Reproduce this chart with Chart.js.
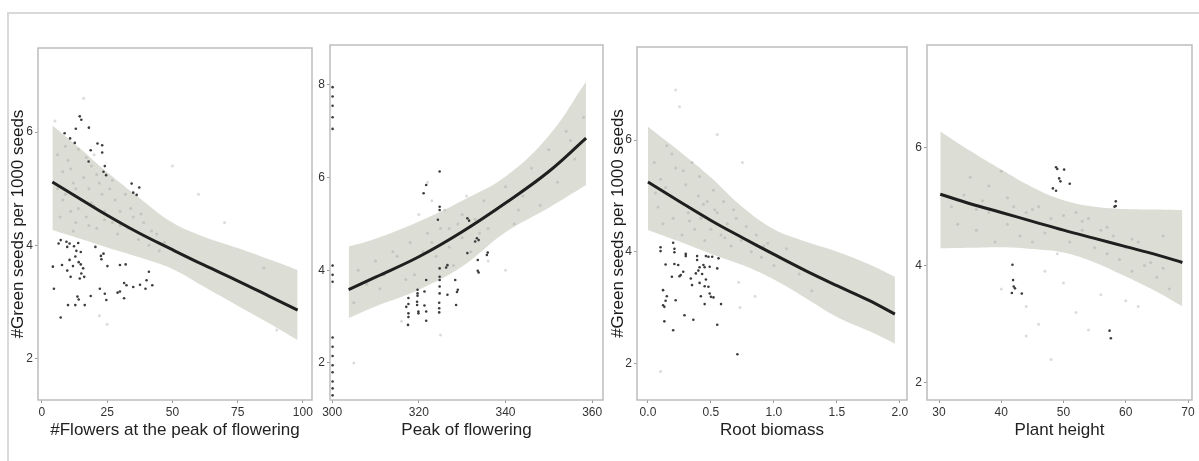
<!DOCTYPE html>
<html>
<head>
<meta charset="utf-8">
<script src="https://cdn.jsdelivr.net/npm/chart.js@4.4.0/dist/chart.umd.min.js"></script>
<style>
  body { margin: 0; background: #fff; width: 1199px; height: 461px; overflow: hidden; position: relative; }
  .outer { position: absolute; left: 7px; top: 12px; width: 1300px; height: 500px; border: 2px solid #d9d9d9; }
  canvas { position: absolute; top: 0; }
</style>
</head>
<body>
<div class="outer"></div>
<canvas id="flowers"></canvas>
<canvas id="peak"></canvas>
<canvas id="root"></canvas>
<canvas id="height"></canvas>
<script>
// ---- panel 1: #Flowers at the peak of flowering
const flowersFitX = [4, 15, 25, 37, 50, 62, 75, 87, 98];
const flowersFitY = [5.12, 4.81, 4.53, 4.22, 3.92, 3.65, 3.37, 3.10, 2.85];
const flowersUpper = [6.12, 5.70, 5.29, 4.85, 4.40, 4.15, 3.95, 3.75, 3.56];
const flowersLower = [4.27, 4.11, 3.96, 3.79, 3.58, 3.27, 2.93, 2.62, 2.32];
const flowersDarkX = [14.5,15.1,18.0,13.0,8.7,10.8,12.6,21.3,23.1,18.7,23.1,17.9,24.1,23.6,24.6,34.4,37.3,35.0,36.3,7.2,9.4,10.6,13.9,6.4,9.7,12.3,13.2,14.9,20.5,23.6,22.6,22.8,12.8,10.6,14.1,14.9,4.2,7.7,11.9,9.7,15.8,15.1,11.0,14.5,16.2,25.1,29.9,32.1,41.0,4.6,22.2,24.1,29.0,29.9,31.5,32.4,35.0,37.6,40.1,39.7,42.3,13.6,14.1,10.0,12.8,16.4,18.7,24.7,31.5,7.2];
const flowersDarkY = [6.28,6.22,6.08,6.06,5.98,5.89,5.81,5.80,5.77,5.68,5.64,5.48,5.40,5.30,5.24,5.09,5.02,4.93,4.89,4.09,4.06,4.03,4.04,4.03,3.97,3.98,3.90,3.88,3.97,3.85,3.81,3.75,3.80,3.74,3.70,3.66,3.62,3.65,3.63,3.55,3.59,3.50,3.44,3.41,3.44,3.63,3.65,3.66,3.53,3.23,3.23,3.14,3.16,3.18,3.33,3.29,3.26,3.30,3.38,3.23,3.29,3.09,3.04,2.94,2.94,2.94,3.10,3.03,3.06,2.72];
const flowersFaintX = [6,8,9,10,11,12,13,14,15,16,17,18,19,20,21,22,23,24,26,27,28,29,30,32,33,35,37,39,41,44,7,12,18,25,22,50,60,70,90,85,45,5,16,6,9,11,14,17,19,21,24,27,30,34,38,42,47,8,13,20];
const flowersFaintY = [5.6,5.3,4.9,5.5,4.6,5.1,4.4,5.7,4.8,5.2,4.5,5.0,5.4,4.7,4.3,5.1,4.9,4.6,5.0,4.4,4.8,4.2,4.6,4.9,4.3,4.5,4.1,4.4,4.0,4.2,4.5,4.25,4.35,2.6,2.75,5.4,4.9,4.4,2.5,3.6,3.9,6.2,6.6,5.0,5.75,5.35,4.65,5.55,4.75,5.25,4.45,5.15,4.35,4.65,4.55,4.25,4.05,4.8,5.0,5.6];

// ---- panel 2: Peak of flowering
const peakFitX = [303.8, 310, 320, 330, 340, 350, 358.6];
const peakFitY = [3.58, 3.85, 4.29, 4.83, 5.45, 6.13, 6.85];
const peakUpper = [4.51, 4.68, 5.05, 5.50, 6.02, 6.90, 8.07];
const peakLower = [2.97, 3.22, 3.58, 4.08, 4.82, 5.35, 5.84];
const peakDarkX = [324.8,321.7,321.1,324.8,324.8,324.4,331.2,331.6,333.4,333.8,333.0,331.2,335.9,335.7,333.6,333.6,333.8,326.6,326.3,324.8,321.7,324.8,324.8,324.8,324.8,328.4,329.0,328.8,326.6,328.6,324.7,324.7,324.7,319.7,319.7,319.7,321.3,317.6,317.6,319.6,319.6,321.3,319.9,319.9,321.7,321.7,317.6,317.6,317.5,317.1,
    300.1,300.1,300.1,300.1,300.1,300.1,300.1,300.1,300.1,300.1,300.1,300.1,300.1,300.1,300.1,300.1];
const peakDarkY = [6.13,5.84,5.66,5.37,5.30,5.09,5.12,5.07,4.69,4.65,4.62,4.37,4.38,4.33,4.22,3.99,3.95,4.11,4.06,4.04,3.79,3.86,3.79,3.65,3.50,3.79,3.58,3.53,3.47,3.25,3.30,3.18,3.09,3.58,3.50,3.45,3.54,3.40,3.27,3.32,3.25,3.24,3.11,3.07,3.11,2.91,3.07,2.99,2.82,3.21,
    7.95,7.75,7.55,7.3,7.05,4.1,3.9,3.75,2.55,2.35,2.15,1.95,1.8,1.6,1.45,1.3];
const peakFaintX = [305,306,308,310,312,314,316,318,319,320,321,322,323,324,325,326,327,328,329,330,331,332,333,334,335,336,338,340,342,344,346,348,350,352,354,356,358,316,325,322,340,305,311,315,317,323,327,330,336,343,347,355];
const peakFaintY = [3.3,4.0,3.7,4.2,3.9,4.4,4.1,4.6,3.9,5.2,4.4,4.8,5.5,4.3,4.9,5.3,4.5,4.1,5.0,4.7,5.6,4.4,5.1,4.8,5.5,4.2,5.3,5.8,5.0,5.6,6.2,5.4,6.6,5.9,7.0,6.4,7.3,2.9,2.6,5.9,4.0,2.0,3.6,4.3,3.8,4.6,4.9,5.2,4.9,5.3,5.9,6.8];

// ---- panel 3: Root biomass
const rootFitX = [0, 0.25, 0.5, 0.75, 1.0, 1.25, 1.5, 1.75, 1.96];
const rootFitY = [5.25, 4.90, 4.56, 4.25, 3.95, 3.66, 3.39, 3.13, 2.88];
const rootUpper = [6.24, 5.80, 5.33, 4.80, 4.40, 4.18, 4.00, 3.78, 3.55];
const rootLower = [4.39, 4.18, 3.96, 3.76, 3.50, 3.17, 2.83, 2.58, 2.35];
const rootDarkX = [0.20,0.21,0.21,0.10,0.10,0.30,0.30,0.46,0.48,0.51,0.56,0.39,0.39,0.14,0.21,0.24,0.44,0.45,0.41,0.40,0.49,0.55,0.28,0.26,0.25,0.38,0.43,0.19,0.34,0.46,0.35,0.41,0.45,0.48,0.12,0.15,0.14,0.22,0.42,0.49,0.50,0.52,0.12,0.13,0.45,0.58,0.29,0.36,0.13,0.20,0.55,0.71];
const rootDarkY = [4.16,4.05,3.99,4.08,4.01,3.96,3.92,3.92,3.91,3.91,3.88,3.92,3.85,3.77,3.78,3.76,3.76,3.72,3.72,3.66,3.73,3.70,3.64,3.58,3.56,3.61,3.60,3.55,3.52,3.50,3.40,3.44,3.38,3.37,3.31,3.20,3.12,3.13,3.20,3.25,3.19,3.18,3.04,3.01,3.06,3.06,2.86,2.78,2.75,2.59,2.69,2.16];
const rootFaintX = [0.05,0.08,0.1,0.12,0.15,0.18,0.2,0.22,0.25,0.27,0.3,0.32,0.35,0.37,0.4,0.42,0.45,0.47,0.5,0.52,0.55,0.58,0.6,0.63,0.66,0.7,0.74,0.78,0.82,0.86,0.9,0.95,1.0,1.1,1.2,0.25,0.22,0.1,0.72,0.73,0.85,0.55,0.75,1.3,0.06,0.14,0.19,0.28,0.33,0.41,0.44,0.53,0.61,0.68,0.8,0.92];
const rootFaintY = [5.6,4.8,5.3,4.5,5.9,5.0,4.6,5.5,4.9,4.3,5.2,4.7,5.6,4.4,5.0,4.6,4.2,4.9,4.4,5.1,4.7,4.3,4.9,4.5,4.1,4.6,4.2,4.45,4.0,4.3,3.9,4.15,3.75,4.05,3.6,6.6,6.9,1.85,3.45,3.0,3.2,6.1,5.6,3.3,5.05,5.15,5.75,5.45,4.55,5.35,4.85,4.75,4.25,4.75,4.2,4.1];

// ---- panel 4: Plant height
const heightFitX = [30.2, 35, 40, 45, 50, 55, 60, 65, 69.1];
const heightFitY = [5.21, 5.05, 4.90, 4.75, 4.60, 4.46, 4.32, 4.18, 4.05];
const heightUpper = [6.28, 5.95, 5.63, 5.33, 5.11, 5.00, 4.96, 4.95, 4.94];
const heightLower = [4.29, 4.30, 4.31, 4.28, 4.22, 4.05, 3.81, 3.55, 3.30];
const heightDarkX = [48.8,49.0,50.1,49.3,49.5,51.0,48.3,48.8,58.4,58.4,58.2,41.8,41.9,42.0,42.2,41.7,43.3,57.4,57.6];
const heightDarkY = [5.67,5.64,5.63,5.48,5.43,5.39,5.31,5.27,5.09,5.01,5.00,4.01,3.75,3.64,3.61,3.53,3.52,2.89,2.76];
const heightFaintX = [35,36,37,38,38,39,40,41,42,43,44,45,46,47,47,48,49,50,51,52,53,54,55,56,57,58,59,60,61,62,63,64,65,66,67,33,34,44,46,52,54,56,60,48,44,50,62,40,32,36,41,45,53,57,59,61,64,66];
const heightFaintY = [5.5,4.6,5.1,4.9,5.35,4.4,5.6,4.7,5.0,4.5,4.9,4.4,5.0,4.55,3.9,4.8,4.2,4.85,4.4,4.9,4.6,4.8,4.3,4.6,4.2,4.5,4.1,4.3,3.9,4.4,4.0,4.2,3.8,4.5,3.6,4.7,5.2,3.3,3.0,3.2,2.9,3.5,3.4,2.4,2.8,3.7,3.3,3.6,5.0,4.95,5.15,4.95,4.75,4.65,4.35,4.45,4.05,3.95];

// ---- axes
const flowersXTicks = [0, 25, 50, 75, 100];
const peakXTicks = [300, 320, 340, 360];
const rootXTicks = [0, 0.5, 1.0, 1.5, 2.0];
const heightXTicks = [30, 40, 50, 60, 70];
const flowersYTicks = [2, 4, 6];
const peakYTicks = [2, 4, 6, 8];
const rootYTicks = [2, 4, 6];
const heightYTicks = [2, 4, 6];
const yTitle = '#Green seeds per 1000 seeds';

const FONT = '"Liberation Sans", Arial, sans-serif';
const CANVAS_H = 441;

function pts(xs, ys) {
    return xs.map((x, i) => ({ x, y: ys[i] }));
}

const framePlugin = {
    id: 'frame',
    afterDatasetsDraw(chart) {
        const { ctx, chartArea: a } = chart;
        ctx.save();
        ctx.strokeStyle = '#bdbdbd';
        ctx.lineWidth = 1.5;
        ctx.strokeRect(a.left, a.top, a.right - a.left, a.bottom - a.top);
        ctx.restore();
    }
};

function render(id, p) {
    const canvas = document.getElementById(id);
    canvas.width = p.canvasWidth;
    canvas.height = CANVAS_H;
    canvas.style.left = p.canvasLeft + 'px';

    const yWidth = p.box.left - p.canvasLeft;
    const xHeight = CANVAS_H - p.box.bottom;

    return new Chart(canvas.getContext('2d'), {
        type: 'scatter',
        data: {
            datasets: [
                {
                    type: 'line',
                    data: pts(p.fitX, p.fitY),
                    borderColor: '#1f1f1f',
                    borderWidth: 3,
                    pointRadius: 0,
                    tension: 0.4,
                    fill: false
                },
                {
                    data: pts(p.darkX, p.darkY),
                    backgroundColor: '#3c3c3c',
                    borderWidth: 0,
                    pointRadius: 1.3
                },
                {
                    data: pts(p.faintX, p.faintY),
                    backgroundColor: 'rgba(140, 140, 140, 0.3)',
                    borderWidth: 0,
                    pointRadius: 1.5
                },
                {
                    type: 'line',
                    data: pts(p.fitX, p.upper),
                    borderWidth: 0,
                    pointRadius: 0,
                    tension: 0.4,
                    backgroundColor: 'rgb(220, 222, 214)',
                    fill: 4
                },
                {
                    type: 'line',
                    data: pts(p.fitX, p.lower),
                    borderWidth: 0,
                    pointRadius: 0,
                    tension: 0.4,
                    fill: false
                }
            ]
        },
        options: {
            responsive: false,
            animation: false,
            devicePixelRatio: 1,
            layout: {
                padding: {
                    top: p.box.top,
                    right: p.canvasLeft + p.canvasWidth - p.box.right,
                    left: 0,
                    bottom: 0
                }
            },
            plugins: { legend: { display: false }, tooltip: { enabled: false } },
            scales: {
                x: {
                    type: 'linear',
                    min: p.xMin,
                    max: p.xMax,
                    afterBuildTicks: s => { s.ticks = p.xTicks.map(v => ({ value: v })); },
                    afterFit: s => {
                        s.height = xHeight;
                        s.paddingLeft = 0; s.paddingRight = 0;
                    },
                    grid: { drawOnChartArea: false, drawTicks: true, tickLength: 3, color: '#999' },
                    border: { display: false },
                    ticks: {
                        padding: 2,
                        color: '#333',
                        font: { family: FONT, size: 12 },
                        maxRotation: 0,
                        callback: p.xFmt || (v => v)
                    },
                    title: {
                        display: true,
                        text: p.xTitle,
                        color: '#222',
                        font: { family: FONT, size: 17 },
                        padding: { top: 0, bottom: 0 }
                    }
                },
                y: {
                    type: 'linear',
                    min: p.yMin,
                    max: p.yMax,
                    afterBuildTicks: s => { s.ticks = p.yTicks.map(v => ({ value: v })); },
                    afterFit: s => {
                        s.width = yWidth;
                        s.paddingTop = 0; s.paddingBottom = 0;
                    },
                    grid: { drawOnChartArea: false, drawTicks: true, tickLength: 3, color: '#999' },
                    border: { display: false },
                    ticks: {
                        padding: 2,
                        color: '#333',
                        font: { family: FONT, size: 12 }
                    },
                    title: {
                        display: !!p.yTitle,
                        text: p.yTitle || '',
                        color: '#1a1a1a',
                        font: { family: FONT, size: 17 },
                        padding: { top: 0, bottom: 0 }
                    }
                }
            }
        },
        plugins: [framePlugin]
    });
}

render('flowers', {
    canvasLeft: 8, canvasWidth: 308,
    box: { left: 38, top: 48, right: 312, bottom: 400 },
    xMin: -1.5, xMax: 103.5, yMin: 1.26, yMax: 7.49,
    xTicks: flowersXTicks, yTicks: flowersYTicks,
    xTitle: '#Flowers at the peak of flowering', yTitle: yTitle,
    fitX: flowersFitX, fitY: flowersFitY, upper: flowersUpper, lower: flowersLower,
    darkX: flowersDarkX, darkY: flowersDarkY, faintX: flowersFaintX, faintY: flowersFaintY
});

render('peak', {
    canvasLeft: 316, canvasWidth: 292,
    box: { left: 330, top: 45, right: 603, bottom: 400 },
    xMin: 299.5, xMax: 362.5, yMin: 1.20, yMax: 8.86,
    xTicks: peakXTicks, yTicks: peakYTicks,
    xTitle: 'Peak of flowering', yTitle: null,
    fitX: peakFitX, fitY: peakFitY, upper: peakUpper, lower: peakLower,
    darkX: peakDarkX, darkY: peakDarkY, faintX: peakFaintX, faintY: peakFaintY
});

render('root', {
    canvasLeft: 608, canvasWidth: 307,
    box: { left: 637, top: 47, right: 907, bottom: 400 },
    xMin: -0.087, xMax: 2.056, yMin: 1.34, yMax: 7.67,
    xTicks: rootXTicks, yTicks: rootYTicks, xFmt: v => v.toFixed(1),
    xTitle: 'Root biomass', yTitle: yTitle,
    fitX: rootFitX, fitY: rootFitY, upper: rootUpper, lower: rootLower,
    darkX: rootDarkX, darkY: rootDarkY, faintX: rootFaintX, faintY: rootFaintY
});

render('height', {
    canvasLeft: 915, canvasWidth: 284,
    box: { left: 927, top: 45, right: 1192, bottom: 400 },
    xMin: 28.07, xMax: 70.64, yMin: 1.71, yMax: 7.75,
    xTicks: heightXTicks, yTicks: heightYTicks,
    xTitle: 'Plant height', yTitle: null,
    fitX: heightFitX, fitY: heightFitY, upper: heightUpper, lower: heightLower,
    darkX: heightDarkX, darkY: heightDarkY, faintX: heightFaintX, faintY: heightFaintY
});
</script>
</body>
</html>
